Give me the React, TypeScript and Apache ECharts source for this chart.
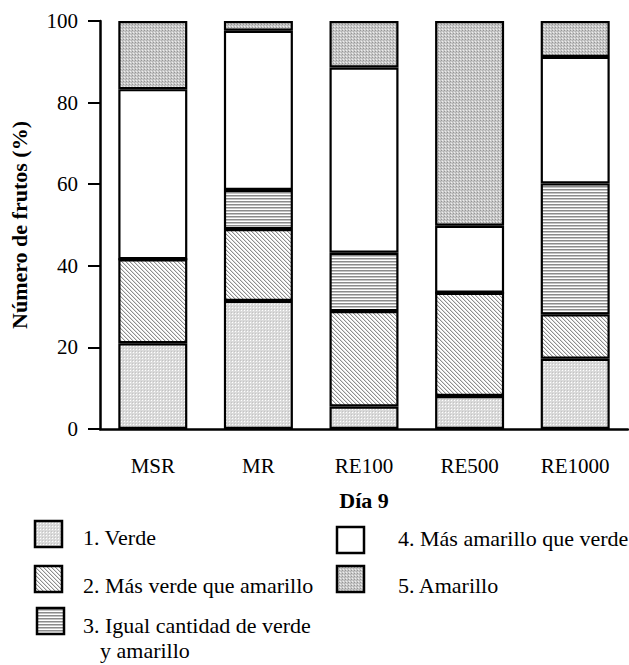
import React, { useEffect, useRef } from 'react';
import * as echarts from 'echarts';

const categories = ['MSR', 'MR', 'RE100', 'RE500', 'RE1000'];
const verde = [21.0, 31.4, 5.5, 8.1, 17.2];
const masVerde = [20.6, 17.6, 23.4, 25.3, 10.9];
const igual = [0, 9.6, 14.3, 0, 32.1];
const masAmarillo = [41.7, 39.0, 45.4, 16.4, 31.0];
const amarillo = [16.7, 2.4, 11.4, 50.2, 8.8];
const seriesNames = [
  '1. Verde',
  '2. Más verde que amarillo',
  '3. Igual cantidad de verde y amarillo',
  '4. Más amarillo que verde',
  '5. Amarillo',
];
const yMin = 0;
const yMax = 100;
const yStep = 20;

const FONT = '"Liberation Serif", "Times New Roman", serif';

function makeTile(w: number, h: number, draw: (ctx: CanvasRenderingContext2D) => void) {
  const c = document.createElement('canvas');
  c.width = w;
  c.height = h;
  const ctx = c.getContext('2d') as CanvasRenderingContext2D;
  draw(ctx);
  return { image: c.toDataURL('image/png'), repeat: 'repeat', imageWidth: w, imageHeight: h } as any;
}

function px(ctx: CanvasRenderingContext2D, x: number, y: number, color: string) {
  ctx.fillStyle = color;
  ctx.fillRect(x, y, 1, 1);
}

function buildPatterns() {
  const pVerde = makeTile(3, 3, (ctx) => {
    ctx.fillStyle = '#dadada';
    ctx.fillRect(0, 0, 3, 3);
    px(ctx, 1, 1, '#ffffff');
    px(ctx, 0, 0, '#c4c4c4');
  });
  const pMasVerde = makeTile(4, 4, (ctx) => {
    ctx.fillStyle = '#ffffff';
    ctx.fillRect(0, 0, 4, 4);
    for (let i = 0; i < 4; i++) {
      px(ctx, i, i, '#8e8e8e');
      px(ctx, (i + 1) % 4, i, '#dcdcdc');
    }
  });
  const pIgual = makeTile(1, 3, (ctx) => {
    px(ctx, 0, 0, '#8c8c8c');
    px(ctx, 0, 1, '#c4c4c4');
    px(ctx, 0, 2, '#ffffff');
  });
  const pMasAmarillo = '#ffffff';
  const pAmarillo = makeTile(3, 3, (ctx) => {
    ctx.fillStyle = '#c8c8c8';
    ctx.fillRect(0, 0, 3, 3);
    px(ctx, 0, 0, '#969696');
    px(ctx, 2, 1, '#b0b0b0');
    px(ctx, 1, 2, '#eeeeee');
  });
  return [pVerde, pMasVerde, pIgual, pMasAmarillo, pAmarillo];
}

export default function App() {
  const ref = useRef<HTMLDivElement>(null);
  useEffect(() => {
    if (!ref.current) return;
    const chart = echarts.init(ref.current, null, { renderer: 'svg' });
    const patterns = buildPatterns();
    const values = [verde, masVerde, igual, masAmarillo, amarillo];

    const series = values.map((vals, i) => ({
      name: seriesNames[i],
      type: 'bar',
      stack: 'total',
      barWidth: 69,
      data: vals,
      itemStyle: { color: patterns[i], borderColor: '#000', borderWidth: 2.2 },
      emphasis: { disabled: true },
    }));

    const textStyle = { fontFamily: FONT, fontSize: 22, fill: '#000' };
    const legendItems = [
      { icon: [35, 521], text: [[83, 537, seriesNames[0]]] },
      { icon: [35, 566], text: [[83, 585, seriesNames[1]]] },
      { icon: [37, 608], text: [[83, 625, '3. Igual cantidad de verde'], [100, 650, 'y amarillo']] },
      { icon: [337, 527], text: [[398, 538, seriesNames[3]]] },
      { icon: [337, 566], text: [[398, 585, seriesNames[4]]] },
    ];
    const graphic: any[] = [];
    legendItems.forEach((it, i) => {
      graphic.push({
        type: 'rect',
        shape: { x: it.icon[0], y: it.icon[1], width: 27, height: 26 },
        style: { fill: patterns[i], stroke: '#000', lineWidth: 2.5 },
      });
      it.text.forEach((t) => {
        graphic.push({
          type: 'text',
          x: t[0] as number,
          y: t[1] as number,
          style: { ...textStyle, text: t[2] as string, verticalAlign: 'middle' },
        });
      });
    });

    chart.setOption({
      animation: false,
      grid: { left: 100, top: 21, width: 528, height: 408, containLabel: false },
      xAxis: {
        type: 'category',
        data: categories,
        axisLine: { lineStyle: { color: '#000', width: 2.5 } },
        axisTick: { alignWithLabel: true, length: 12, lineStyle: { color: '#000', width: 2 } },
        axisLabel: { margin: 26, fontSize: 21, fontFamily: FONT, color: '#000' },
        name: 'Día 9',
        nameLocation: 'middle',
        nameGap: 60,
        nameTextStyle: { fontSize: 22, fontWeight: 'bold', fontFamily: FONT, color: '#000' },
      },
      yAxis: {
        type: 'value',
        min: yMin,
        max: yMax,
        interval: yStep,
        axisLine: { show: true, lineStyle: { color: '#000', width: 2.5 } },
        axisTick: { show: true, length: 12, lineStyle: { color: '#000', width: 2 } },
        splitLine: { show: false },
        axisLabel: { margin: 22, fontSize: 21, fontFamily: FONT, color: '#000' },
        name: 'Número de frutos (%)',
        nameLocation: 'middle',
        nameGap: 70,
        nameTextStyle: { fontSize: 22, fontWeight: 'bold', fontFamily: FONT, color: '#000' },
      },
      series,
      graphic,
    } as any);
    return () => chart.dispose();
  }, []);
  return <div ref={ref} style={{ position: 'fixed', left: 0, top: 0, width: 629, height: 665, background: '#fff' }} />;
}
